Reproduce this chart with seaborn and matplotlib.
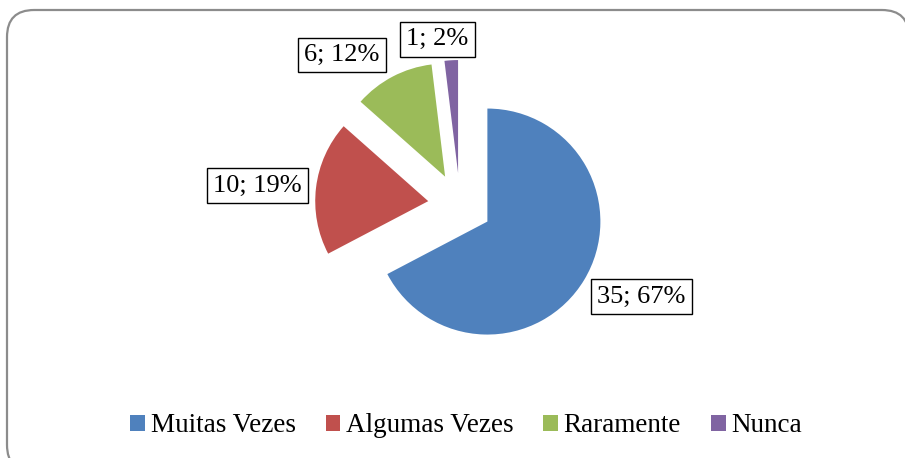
import numpy as np
import seaborn as sns
import matplotlib.pyplot as plt
from matplotlib.patches import FancyBboxPatch, Patch

# Survey answers (count per category)
categories = ['Muitas Vezes', 'Algumas Vezes', 'Raramente', 'Nunca']
counts = [35, 10, 6, 1]

# Excel 2007 default palette
colors = ['#4F81BD', '#C0504D', '#9BBB59', '#8064A2']

# label placement: radial factor and angle shift (deg) per slice
label_r = [1.80, 1.80, 1.69, 1.48]
label_shift = [4.4, 1.5, 10.5, 4.3]

sns.set_theme(style='white')
plt.rcParams['font.family'] = ['Liberation Serif', 'DejaVu Serif']
plt.rcParams['text.color'] = 'black'

W, H = 905, 458
fig = plt.figure(figsize=(W / 100, H / 100), dpi=100)
fig.patch.set_facecolor('white')

# rounded outer frame (runs past the right and bottom edges like the source)
fx0, fy0, fx1, fy1 = 7, -14, 909, H - 10
frame = FancyBboxPatch((fx0 / W, fy0 / H), (fx1 - fx0) / W, (fy1 - fy0) / H,
                       boxstyle='round,pad=0,rounding_size=0.03',
                       transform=fig.transFigure, facecolor='white',
                       edgecolor='#8c8c8c', linewidth=1.6, mutation_aspect=W / H,
                       zorder=-5)
fig.patches.append(frame)

ax = fig.add_axes([0, 0, 1, 1])
ax.patch.set_alpha(0)

center = (460, H - 205)
radius = 113
explode = [32] * len(counts)  # pixel offset, same as data units here

wedges, _ = ax.pie(counts, colors=colors, startangle=90, counterclock=False,
                   explode=explode, center=center, radius=radius,
                   wedgeprops=dict(linewidth=0))
ax.set_xlim(0, W)
ax.set_ylim(0, H)
ax.set_aspect('equal')
ax.axis('off')

total = sum(counts)
for w, v, r, s in zip(wedges, counts, label_r, label_shift):
    mid = np.deg2rad((w.theta1 + w.theta2) / 2 + s)
    x = center[0] + r * radius * np.cos(mid)
    y = center[1] + r * radius * np.sin(mid)
    ax.text(x, y, f'{v}; {100 * v / total:.0f}%', ha='center', va='center',
            fontsize=19, color='black',
            bbox=dict(boxstyle='square,pad=0.24', facecolor='white',
                      edgecolor='black', linewidth=1.0))

handles = [Patch(facecolor=c, edgecolor='none') for c in colors]
fig.legend(handles, categories, loc='center', bbox_to_anchor=(0.515, 0.07),
           ncol=4, frameon=False, fontsize=19.5, handlelength=0.55,
           handleheight=0.55, handletextpad=0.2, columnspacing=1.1,
           labelcolor='black')

fig.savefig('out.png', dpi=100)
